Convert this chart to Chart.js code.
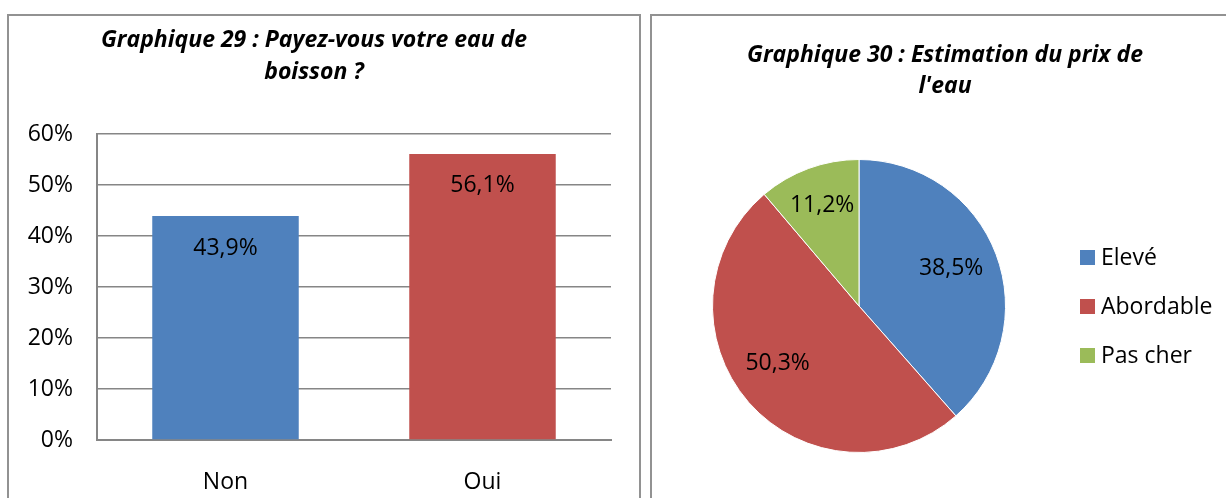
<!DOCTYPE html>
<html>
<head>
<meta charset="utf-8">
<script src="https://cdn.jsdelivr.net/npm/chart.js@4/dist/chart.umd.min.js"></script>
<style>
  html, body { margin: 0; padding: 0; background: #fff; overflow: hidden; }
  body { width: 1226px; height: 498px; position: relative; }
  .panel { position: absolute; border: 2px solid #929292; border-bottom: none; box-sizing: border-box; }
  #barPanel { left: 7px; top: 14px; width: 634px; height: 500px; }
  #piePanel { left: 650px; top: 14px; width: 600px; height: 500px; }
  .wrap { position: absolute; }
  #barWrap { left: 8px; top: 15px; width: 612px; height: 483px; }
  #pieWrap { left: 651px; top: 15px; width: 588px; height: 483px; }
</style>
</head>
<body>
<div class="panel" id="barPanel"></div>
<div class="panel" id="piePanel"></div>
<div class="wrap" id="barWrap"><canvas id="barChart"></canvas></div>
<div class="wrap" id="pieWrap"><canvas id="pieChart"></canvas></div>
<script>
  // data
  const barLabels = ['Non', 'Oui'];
  const barValues = [43.9, 56.1];
  const barColors = ['#4F81BD', '#C0504D'];
  const yTicks = [0, 10, 20, 30, 40, 50, 60];

  const pieLabels = ['Elevé', 'Abordable', 'Pas cher'];
  const pieValues = [38.5, 50.3, 11.2];
  const pieColors = ['#4F81BD', '#C0504D', '#9BBB59'];

  const barTitle = ['Graphique 29 : Payez-vous votre eau de', 'boisson ?'];
  const pieTitle = ['Graphique 30 : Estimation du prix de', "l'eau"];

  const FONT = "'Open Sans', 'DejaVu Sans', sans-serif";
  const SIZE = 23;

  function fmt(v) {
    return v.toFixed(1).replace('.', ',') + '%';
  }

  // value labels inside the top of each bar
  const barValueLabels = {
    id: 'barValueLabels',
    afterDatasetsDraw(chart) {
      const ctx = chart.ctx;
      const meta = chart.getDatasetMeta(0);
      ctx.save();
      ctx.font = SIZE + 'px ' + FONT;
      ctx.fillStyle = '#000';
      ctx.textAlign = 'center';
      ctx.textBaseline = 'middle';
      meta.data.forEach((bar, i) => {
        ctx.fillText(fmt(barValues[i]), bar.x, bar.y + 32);
      });
      ctx.restore();
    }
  };

  // title, slice labels and legend for the pie
  const labelShift = [-1.6, 5.6, 0];   // degrees, to mimic Excel best fit
  const labelRadius = [0.68, 0.68, 0.73];
  const pieExtras = {
    id: 'pieExtras',
    afterDraw(chart) {
      const ctx = chart.ctx;
      const meta = chart.getDatasetMeta(0);
      ctx.save();
      ctx.fillStyle = '#000';
      ctx.textAlign = 'center';
      ctx.textBaseline = 'middle';

      // title centred on the whole panel
      ctx.font = 'italic bold ' + SIZE + 'px ' + FONT;
      pieTitle.forEach((line, i) => {
        ctx.fillText(line, chart.width / 2, 40 + i * 31);
      });

      ctx.font = SIZE + 'px ' + FONT;
      meta.data.forEach((arc, i) => {
        const mid = (arc.startAngle + arc.endAngle) / 2 + labelShift[i] * Math.PI / 180;
        const r = arc.outerRadius * labelRadius[i];
        ctx.fillText(fmt(pieValues[i]), arc.x + Math.cos(mid) * r, arc.y + Math.sin(mid) * r);
      });

      // legend
      const area = chart.chartArea;
      const lx = area.right + 74;
      const cy = (area.top + area.bottom) / 2;
      const step = 49;
      ctx.textAlign = 'left';
      pieLabels.forEach((lab, i) => {
        const y = cy + (i - 1) * step;
        ctx.fillStyle = pieColors[i];
        ctx.fillRect(lx, y - 7, 15, 15);
        ctx.fillStyle = '#000';
        ctx.fillText(lab, lx + 21, y + 1);
      });
      ctx.restore();
    }
  };

  new Chart(document.getElementById('barChart'), {
    type: 'bar',
    data: {
      labels: barLabels,
      datasets: [{
        data: barValues,
        backgroundColor: barColors,
        borderWidth: 0,
        barPercentage: 0.57,
        categoryPercentage: 1
      }]
    },
    options: {
      responsive: true,
      maintainAspectRatio: false,
      animation: false,
      layout: { padding: { left: 9, right: 9, top: 0, bottom: 0 } },
      plugins: {
        legend: { display: false },
        tooltip: { enabled: false },
        title: {
          display: true,
          text: barTitle,
          color: '#000',
          font: { family: FONT, size: SIZE, weight: 'bold', style: 'italic', lineHeight: 32 / SIZE },
          padding: { top: 9, bottom: 46 }
        }
      },
      scales: {
        x: {
          grid: { display: false, drawTicks: false },
          border: { color: '#868686', width: 2 },
          ticks: { color: '#000', font: { family: FONT, size: SIZE }, padding: 29 },
          afterFit(s) { s.height = 58; }
        },
        y: {
          min: 0,
          max: 60,
          afterBuildTicks(s) { s.ticks = yTicks.map(v => ({ value: v })); },
          grid: { color: '#868686', lineWidth: 1.5, drawTicks: false },
          border: { color: '#868686', width: 2 },
          ticks: {
            color: '#000',
            font: { family: FONT, size: SIZE },
            padding: 24,
            callback: v => v + '%'
          },
          afterFit(s) { s.width = 80; }
        }
      }
    },
    plugins: [barValueLabels]
  });

  new Chart(document.getElementById('pieChart'), {
    type: 'pie',
    data: {
      labels: pieLabels,
      datasets: [{
        data: pieValues,
        backgroundColor: pieColors,
        borderColor: '#ffffff',
        borderWidth: 1
      }]
    },
    options: {
      responsive: true,
      maintainAspectRatio: false,
      animation: false,
      layout: { padding: { left: 61, right: 233, top: 144, bottom: 45 } },
      plugins: {
        legend: { display: false },
        tooltip: { enabled: false },
        title: { display: false }
      }
    },
    plugins: [pieExtras]
  });
</script>
</body>
</html>
